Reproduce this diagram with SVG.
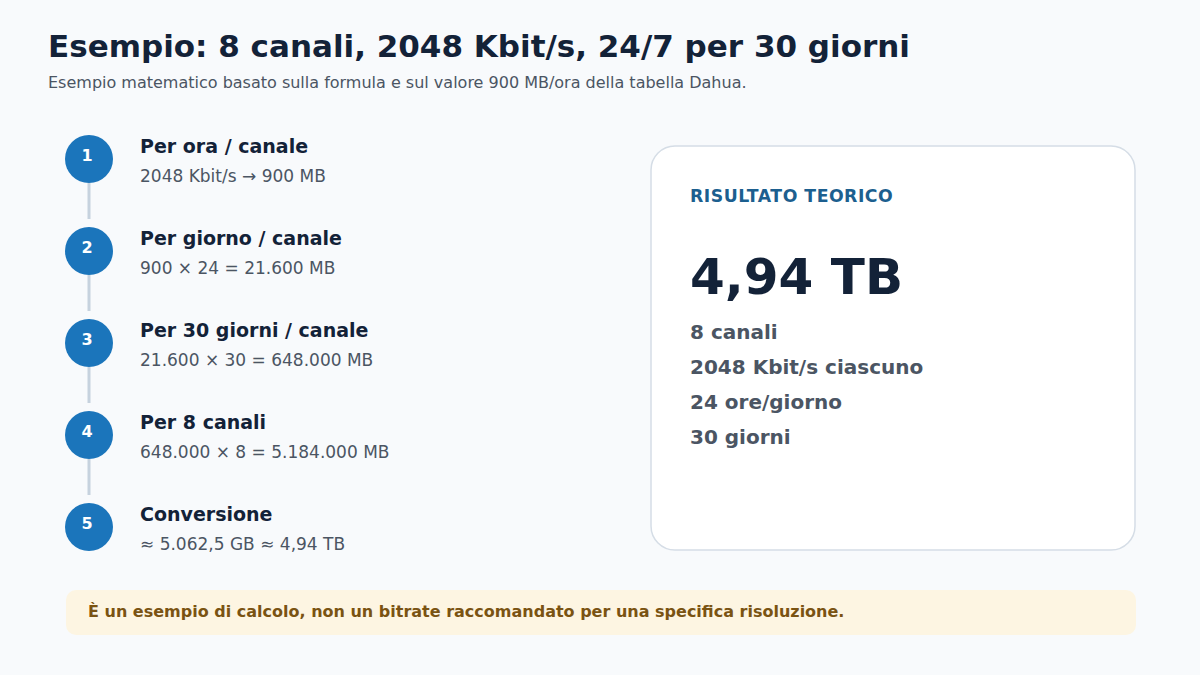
<svg xmlns="http://www.w3.org/2000/svg" width="1200" height="675" viewBox="0 0 1200 675">
<style>
text{font-family:"DejaVu Sans","Noto Sans",sans-serif}
.title{font-size:31px;font-weight:bold;fill:#132238}
.sub{font-size:16px;fill:#4b5563}
.circ{fill:#1b75bb}
.num{font-size:16px;font-weight:bold;fill:#ffffff;text-anchor:middle}
.st{font-size:19px;font-weight:bold;fill:#132238}
.sd{font-size:17px;fill:#4b5563}
.conn{stroke:#c6d2de;stroke-width:3}
.lab{font-size:17.3px;font-weight:bold;fill:#1c5f8f;letter-spacing:0.5px}
.big{font-size:50px;font-weight:bold;fill:#132238}
.it{font-size:20px;font-weight:bold;fill:#4b5563}
.note{font-size:16px;font-weight:bold;fill:#7a5312}
</style>
<rect x="0" y="0" width="1200" height="675" fill="#f8fafc"/>
<text class="title" x="48" y="57">Esempio: 8 canali, 2048 Kbit/s, 24/7 per 30 giorni</text>
<text class="sub" x="48" y="88">Esempio matematico basato sulla formula e sul valore 900 MB/ora della tabella Dahua.</text>
<g id="connectors">
<line class="conn" x1="89" y1="183" x2="89" y2="219"/>
<line class="conn" x1="89" y1="275" x2="89" y2="311"/>
<line class="conn" x1="89" y1="367" x2="89" y2="403"/>
<line class="conn" x1="89" y1="459" x2="89" y2="495"/>
</g>
<g id="step1">
<circle class="circ" cx="89" cy="159" r="24"/>
<text class="num" x="87" y="161">1</text>
<text class="st" x="140" y="153">Per ora / canale</text>
<text class="sd" x="140" y="182">2048 Kbit/s → 900 MB</text>
</g>
<g id="step2">
<circle class="circ" cx="89" cy="251" r="24"/>
<text class="num" x="87" y="253">2</text>
<text class="st" x="140" y="245">Per giorno / canale</text>
<text class="sd" x="140" y="274">900 × 24 = 21.600 MB</text>
</g>
<g id="step3">
<circle class="circ" cx="89" cy="343" r="24"/>
<text class="num" x="87" y="345">3</text>
<text class="st" x="140" y="337">Per 30 giorni / canale</text>
<text class="sd" x="140" y="366">21.600 × 30 = 648.000 MB</text>
</g>
<g id="step4">
<circle class="circ" cx="89" cy="435" r="24"/>
<text class="num" x="87" y="437">4</text>
<text class="st" x="140" y="429">Per 8 canali</text>
<text class="sd" x="140" y="458">648.000 × 8 = 5.184.000 MB</text>
</g>
<g id="step5">
<circle class="circ" cx="89" cy="527" r="24"/>
<text class="num" x="87" y="529">5</text>
<text class="st" x="140" y="521">Conversione</text>
<text class="sd" x="140" y="550">≈ 5.062,5 GB ≈ 4,94 TB</text>
</g>
<g id="result">
<rect x="651" y="146" width="484" height="404" rx="24" fill="#ffffff" stroke="#d5dde6" stroke-width="1.5"/>
<text class="lab" x="690" y="202">RISULTATO TEORICO</text>
<text class="big" x="690" y="294">4,94 TB</text>
<text class="it" x="690" y="339">8 canali</text>
<text class="it" x="690" y="374">2048 Kbit/s ciascuno</text>
<text class="it" x="690" y="409">24 ore/giorno</text>
<text class="it" x="690" y="444">30 giorni</text>
</g>
<g id="note">
<rect x="66" y="590" width="1070" height="45" rx="10" fill="#fdf5e2"/>
<text class="note" x="88" y="617">È un esempio di calcolo, non un bitrate raccomandato per una specifica risoluzione.</text>
</g>
</svg>
